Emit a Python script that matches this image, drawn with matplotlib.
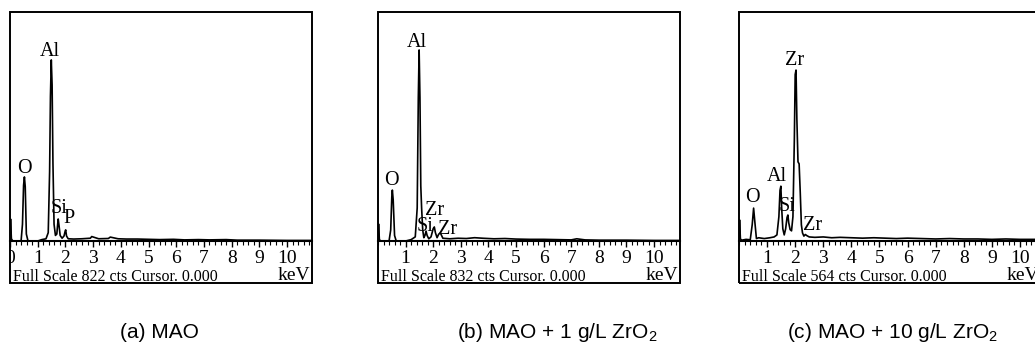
import numpy as np
import matplotlib.pyplot as plt
from matplotlib.patches import Rectangle
from matplotlib.ticker import MultipleLocator

plt.rcParams['font.family'] = ['Liberation Serif', 'DejaVu Serif']

# спектры EDS (энергия, кэВ / счёт)
energy_a = [0.00, 0.02, 0.05, 0.10, 0.30, 0.40, 0.45, 0.49, 0.52, 0.55,
            0.59, 0.65, 1.00, 1.15, 1.30, 1.38, 1.43, 1.46, 1.49, 1.52,
            1.55, 1.59, 1.64, 1.69, 1.72, 1.74, 1.77, 1.81, 1.88, 1.95,
            1.99, 2.01, 2.04, 2.10, 2.30, 2.60, 2.90, 2.95, 3.20, 3.55,
            3.62, 3.90, 4.20, 4.60, 5.00, 5.40, 5.90, 6.30, 6.80, 7.20,
            7.80, 8.20, 9.00, 10.0, 10.9]
counts_a = [0, 79, 8, 0, 0, 0, 60, 200, 230, 195,
            25, 0, 0, 5, 8, 30, 250, 520, 650, 560,
            280, 60, 20, 25, 60, 79, 55, 20, 10, 18,
            35, 40, 18, 8, 7, 8, 10, 16, 8, 9,
            14, 8, 7, 7, 6, 5, 6, 4, 5, 4,
            5, 3, 3, 2, 2]

energy_b = [0.00, 0.02, 0.05, 0.10, 0.40, 0.46, 0.50, 0.52, 0.55, 0.60,
            0.66, 1.00, 1.20, 1.35, 1.42, 1.46, 1.49, 1.52, 1.55, 1.58,
            1.62, 1.66, 1.70, 1.74, 1.78, 1.84, 1.92, 2.00, 2.04, 2.08,
            2.14, 2.20, 2.26, 2.35, 2.60, 2.90, 3.20, 3.50, 3.80, 4.20,
            4.60, 5.00, 5.50, 6.00, 6.50, 7.00, 7.20, 7.50, 8.00, 9.00,
            10.0, 10.9]
counts_b = [0, 62, 5, 0, 0, 40, 160, 185, 150, 20,
            0, 0, 5, 15, 120, 520, 694, 520, 200, 120,
            40, 12, 20, 36, 20, 8, 15, 45, 51, 30,
            12, 25, 29, 10, 8, 10, 9, 12, 10, 8,
            9, 7, 6, 6, 5, 4, 8, 4, 3, 3,
            2, 2]

energy_c = [0.00, 0.02, 0.05, 0.10, 0.25, 0.40, 0.47, 0.52, 0.56, 0.62,
            0.70, 0.90, 1.10, 1.25, 1.35, 1.42, 1.46, 1.49, 1.52, 1.56,
            1.61, 1.66, 1.71, 1.74, 1.77, 1.82, 1.87, 1.92, 1.97, 2.00,
            2.03, 2.06, 2.10, 2.14, 2.18, 2.22, 2.26, 2.31, 2.36, 2.42,
            2.50, 2.70, 3.00, 3.30, 3.60, 4.00, 4.40, 4.80, 5.20, 5.60,
            6.00, 6.50, 7.00, 7.50, 8.00, 8.50, 9.00, 9.50, 10.0, 10.75]
counts_c = [0, 52, 5, 2, 4, 3, 40, 81, 50, 6,
            8, 6, 8, 10, 15, 60, 125, 135, 80, 30,
            15, 30, 58, 64, 45, 28, 25, 60, 250, 410,
            421, 300, 195, 190, 120, 40, 20, 12, 16, 13,
            10, 9, 10, 8, 9, 8, 7, 8, 7, 6,
            7, 6, 5, 6, 5, 5, 4, 5, 4, 4]

full_scale = [822, 832, 564]
captions = ['(a) MAO', r'(b) MAO + 1 g/L ZrO$_\mathregular{2}$',
            r'(c) MAO + 10 g/L ZrO$_\mathregular{2}$']

# подписи элементов: (текст, кэВ, счёт)
labels_a = [('O', 0.52, 262), ('Al', 1.44, 679), ('Si', 1.76, 118), ('P', 2.12, 79)]
labels_b = [('O', 0.49, 221), ('Al', 1.42, 722), ('Zr', 2.05, 109),
            ('Si', 1.72, 51), ('Zr', 2.53, 40)]
labels_c = [('O', 0.49, 108), ('Al', 1.36, 160), ('Si', 1.70, 84),
            ('Zr', 1.99, 445), ('Zr', 2.61, 39)]

W, H = 1035, 345
fig = plt.figure(figsize=(W / 100, H / 100), dpi=100)

panels = [
    (10, 302, 10.9, energy_a, counts_a, labels_a, True),
    (378, 302, 10.94, energy_b, counts_b, labels_b, False),
    (739, 302, 10.75, energy_c, counts_c, labels_c, False),
]
top, base, bottom = 12, 241, 283

for i, (left, width, xmax, e, c, labels, zero) in enumerate(panels):
    ax = fig.add_axes([left / W, 1 - base / H, width / W, (base - top) / H])
    ax.plot(e, c, color='black', lw=1.2)
    ax.set_xlim(0, xmax)
    ax.set_ylim(0, full_scale[i])
    for s in ['top', 'left', 'right']:
        ax.spines[s].set_visible(False)
    ax.spines['bottom'].set_linewidth(1.5)
    ax.set_yticks([])
    ticks = list(range(0, 11)) if zero else list(range(1, 11))
    ax.set_xticks(ticks)
    ax.set_xticklabels([str(t) for t in ticks], fontsize=14)
    ax.xaxis.set_minor_locator(MultipleLocator(0.2))
    ax.tick_params(axis='x', which='major', direction='out', length=4, width=1, pad=2.5)
    ax.tick_params(axis='x', which='minor', direction='out', length=3, width=0.8)

    frame = Rectangle((left / W, 1 - bottom / H), width / W, (bottom - top) / H,
                      transform=fig.transFigure, fill=False, lw=1.4,
                      edgecolor='black')
    fig.patches.append(frame)
    for lab in ax.get_xticklabels():
        lab.set_clip_path(frame)

    for txt, x, y in labels:
        ax.text(x, y, txt, fontsize=14.5, ha='center', va='center')

    fig.text((left + 3) / W, 1 - 277 / H,
             'Full Scale %d cts Cursor. 0.000' % full_scale[i],
             fontsize=11.5, ha='left', va='center')
    fig.text((left + width - 2) / W, 1 - 284 / H, 'keV',
             fontsize=14, ha='right', va='bottom')

    fig.text((left + width / 2 + [-2, 28, 2][i]) / W, 1 - 333 / H, captions[i],
             fontsize=15, ha='center', va='center', family='Liberation Sans')

fig.savefig('out.png', dpi=100)
